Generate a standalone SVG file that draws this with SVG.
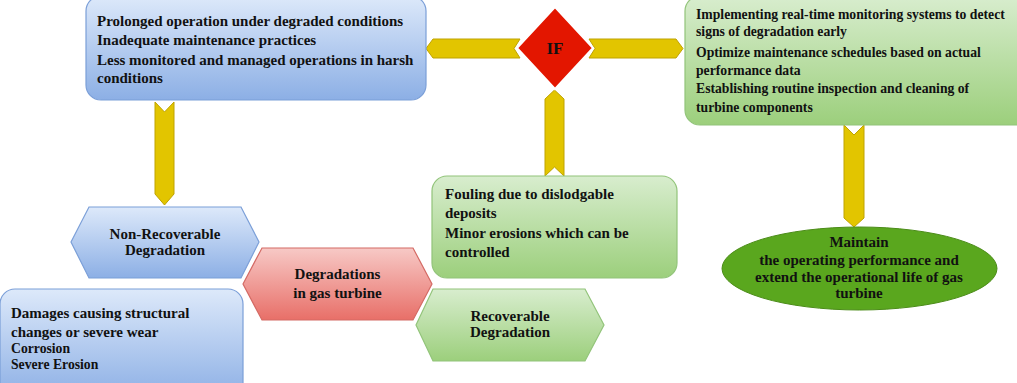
<svg xmlns="http://www.w3.org/2000/svg" width="1017" height="383" viewBox="0 0 1017 383">
<defs>
<linearGradient id="gBlue" x1="0" y1="0" x2="0" y2="1">
<stop offset="0" stop-color="#dde9fa"/><stop offset="1" stop-color="#8cafe5"/>
</linearGradient>
<linearGradient id="gGreen" x1="0" y1="0" x2="0" y2="1">
<stop offset="0" stop-color="#d8edce"/><stop offset="1" stop-color="#9ccf7c"/>
</linearGradient>
<linearGradient id="gRed" x1="0" y1="0" x2="0" y2="1">
<stop offset="0" stop-color="#f7c9c6"/><stop offset="1" stop-color="#e86f68"/>
</linearGradient>
<style>
text{font-family:"Liberation Serif","Times New Roman",serif;font-weight:bold;fill:#111;font-size:15px}
.blue{fill:url(#gBlue);stroke:#7b9fd8;stroke-width:1.2}
.green{fill:url(#gGreen);stroke:#92c47a;stroke-width:1.2}
.red{fill:url(#gRed);stroke:#d46a64;stroke-width:1.2}
.arrow{fill:#e2c500;stroke:#bfa300;stroke-width:1}
.c{text-anchor:middle}
.s{font-size:13.7px}
</style>
</defs>

<g id="connectors">
<polygon class="arrow" points="426,48.5 433,39 520,39 514,48.5 520,58 433,58"/>
<polygon class="arrow" points="589,39 676,39 683,48.5 676,58 589,58 595,48.5"/>
<polygon class="arrow" points="554.5,90 564,99 564,176 554.5,167 545,176 545,99"/>
<polygon class="arrow" points="155,102 164.5,112 174,102 174,194 164.5,205 155,194"/>
<polygon class="arrow" points="844,125 854,135 864,125 864,218 854,227 844,218"/>
</g>

<g id="causes">
<rect class="blue" x="86" y="-4" width="340" height="104" rx="15"/>
<text x="97" y="26">Prolonged operation under degraded conditions</text>
<text x="97" y="45">Inadequate maintenance practices</text>
<text x="97" y="65">Less monitored and managed operations in harsh</text>
<text x="97" y="83">conditions</text>
</g>

<g id="if">
<polygon points="555,7 593,48 555,89 517,48" fill="#e31600" stroke="#ffffff" stroke-width="2"/>
<text class="c" x="555" y="54" style="font-size:17px">IF</text>
</g>

<g id="measures">
<rect class="green" x="685" y="-4" width="345" height="129" rx="15"/>
<text class="s" x="696" y="19">Implementing real-time monitoring systems to detect</text>
<text class="s" x="696" y="36">signs of degradation early</text>
<text class="s" x="696" y="57">Optimize maintenance schedules based on actual</text>
<text class="s" x="696" y="75">performance data</text>
<text class="s" x="696" y="93">Establishing routine inspection and cleaning of</text>
<text class="s" x="696" y="112">turbine components</text>
</g>

<g id="maintain">
<ellipse cx="859.5" cy="268.5" rx="137.5" ry="41.5" fill="#5aa71e" stroke="#4b8c18" stroke-width="1"/>
<text class="c" x="859" y="247">Maintain</text>
<text class="c" x="859" y="265">the operating performance and</text>
<text class="c" x="859" y="282">extend the operational life of gas</text>
<text class="c" x="859" y="298">turbine</text>
</g>

<g id="non-recoverable">
<polygon class="blue" points="71,242 89,207 241,207 259,242 241,278 89,278"/>
<text class="c" x="165" y="239">Non-Recoverable</text>
<text class="c" x="165" y="255">Degradation</text>
</g>

<g id="non-recoverable-details">
<rect class="blue" x="0" y="289" width="243" height="110" rx="15"/>
<text x="11" y="318">Damages causing structural</text>
<text x="11" y="337">changes or severe wear</text>
<text class="s" x="11" y="353">Corrosion</text>
<text class="s" x="11" y="369">Severe Erosion</text>
</g>

<g id="degradations">
<polygon class="red" points="243,284 262,248 413,248 432,284 413,320 262,320"/>
<text class="c" x="337.5" y="279">Degradations</text>
<text class="c" x="337.5" y="298">in gas turbine</text>
</g>

<g id="recoverable-details">
<rect class="green" x="432" y="176" width="245" height="102" rx="15"/>
<text x="445" y="199">Fouling due to dislodgable</text>
<text x="445" y="218">deposits</text>
<text x="445" y="238">Minor erosions which can be</text>
<text x="445" y="257">controlled</text>
</g>

<g id="recoverable">
<polygon class="green" points="416,325 433,289 585,289 604,325 585,361 433,361"/>
<text class="c" x="510" y="321">Recoverable</text>
<text class="c" x="510" y="337">Degradation</text>
</g>
</svg>
